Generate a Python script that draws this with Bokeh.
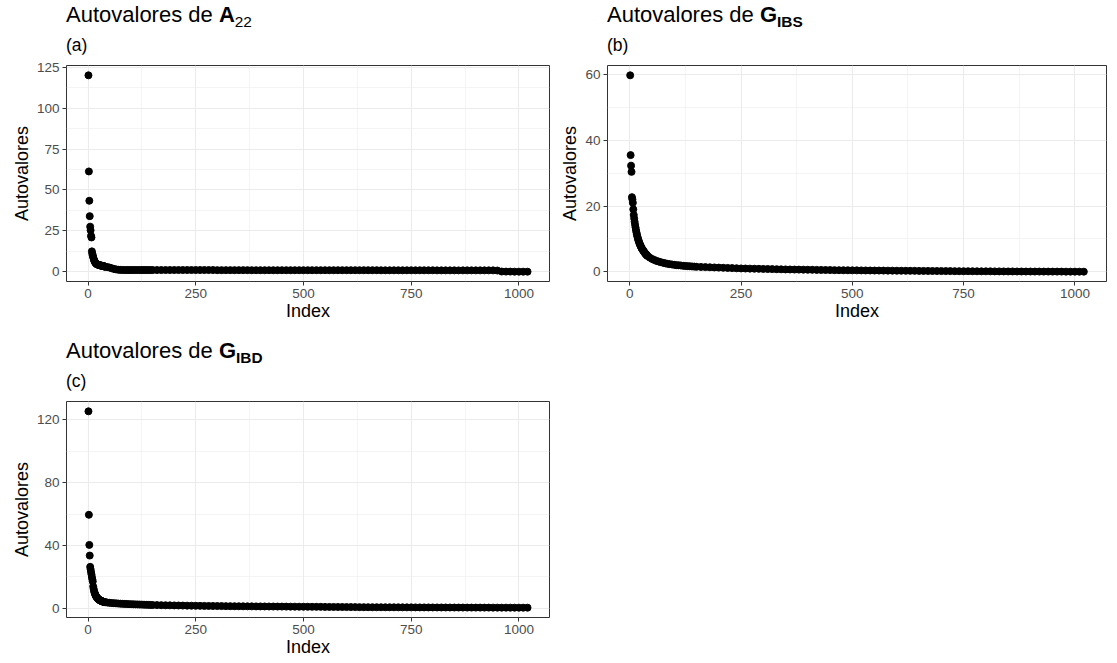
from bokeh.plotting import figure
from bokeh.models import Range1d, FixedTicker, Div
from bokeh.layouts import column, row
from bokeh.embed import file_html
from bokeh.resources import INLINE

FONT = "Liberation Sans"

# ---------------- data (eigenvalue index and value) ----------------
idx_head = list(range(1, 41))
idx_mid = list(range(45, 151, 5))
idx_tail = list(range(160, 1021, 10))

a22_head = [120.0, 61.3, 43.4, 34.0, 27.6, 25.4, 22.0, 21.0, 12.5, 11.0,
            10.0, 9.0, 8.0, 7.2, 6.5, 6.0, 5.6, 5.3, 5.0, 4.8,
            4.6, 4.5, 4.4, 4.3, 4.2, 4.1, 4.0, 4.0, 3.9, 3.8,
            3.8, 3.7, 3.7, 3.6, 3.5, 3.5, 3.4, 3.3, 3.2, 3.1]
a22_mid = [2.9, 2.6, 2.2, 1.8, 1.5, 1.3, 1.2, 1.15, 1.1, 1.1, 1.1,
           1.1, 1.1, 1.1, 1.1, 1.1, 1.1, 1.1, 1.1, 1.1, 1.1, 1.1]
a22_tail = [1.1, 1.1, 1.1, 1.1, 1.1, 1.1, 1.1, 1.1, 1.1, 1.1,
            1.1, 1.1, 1.1, 1.1, 1.05, 1.05, 1.05, 1.05, 1.05, 1.05,
            1.05, 1.05, 1.0, 1.0, 1.0, 1.0, 1.0, 1.0, 1.0, 1.0,
            1.0, 1.0, 1.0, 1.0, 1.0, 1.0, 1.0, 1.0, 1.0, 1.0,
            1.0, 1.0, 1.0, 1.0, 1.0, 1.0, 1.0, 1.0, 1.0, 1.0,
            1.0, 1.0, 0.95, 0.95, 0.95, 0.95, 0.95, 0.95, 0.95, 0.95,
            0.95, 0.95, 0.95, 0.95, 0.95, 0.9, 0.9, 0.9, 0.9, 0.9,
            0.9, 0.9, 0.9, 0.9, 0.9, 0.9, 0.9, 0.9, 0.9, 0.8,
            0.2, 0.15, 0.15, 0.1, 0.1, 0.1, 0.1]

gibs_head = [59.8, 35.5, 32.3, 30.4, 22.7, 22.0, 21.0, 19.0, 17.3, 16.2,
             15.2, 14.3, 13.5, 12.7, 12.0, 11.4, 10.8, 10.3, 9.8, 9.4,
             9.0, 8.6, 8.3, 8.0, 7.7, 7.4, 7.1, 6.9, 6.7, 6.5,
             6.3, 6.1, 5.9, 5.7, 5.5, 5.4, 5.2, 5.1, 4.9, 4.8]
gibs_mid = [4.3, 3.9, 3.6, 3.3, 3.1, 2.9, 2.7, 2.55, 2.4, 2.3, 2.2,
            2.1, 2.0, 1.95, 1.9, 1.8, 1.75, 1.7, 1.65, 1.6, 1.55, 1.5]
gibs_tail = [1.45, 1.4, 1.35, 1.3, 1.25, 1.2, 1.15, 1.1, 1.05, 1.0,
             0.97, 0.94, 0.91, 0.88, 0.85, 0.82, 0.79, 0.76, 0.73, 0.7,
             0.68, 0.66, 0.64, 0.62, 0.6, 0.58, 0.56, 0.54, 0.52, 0.5,
             0.48, 0.46, 0.45, 0.44, 0.42, 0.41, 0.4, 0.38, 0.37, 0.36,
             0.35, 0.34, 0.33, 0.32, 0.3, 0.29, 0.28, 0.27, 0.26, 0.25,
             0.24, 0.23, 0.22, 0.21, 0.2, 0.19, 0.18, 0.17, 0.16, 0.15,
             0.15, 0.14, 0.13, 0.12, 0.12, 0.11, 0.1, 0.1, 0.09, 0.08,
             0.08, 0.07, 0.07, 0.06, 0.06, 0.05, 0.05, 0.04, 0.04, 0.03,
             0.03, 0.03, 0.02, 0.02, 0.02, 0.01, 0.01]

gibd_head = [125.5, 59.5, 40.3, 33.5, 26.3, 24.8, 23.0, 21.5, 19.8, 18.3,
             17.0, 13.8, 12.3, 11.0, 10.0, 9.2, 8.5, 7.9, 7.4, 7.0,
             6.6, 6.3, 6.0, 5.7, 5.5, 5.3, 5.1, 4.9, 4.8, 4.6,
             4.5, 4.4, 4.3, 4.2, 4.1, 4.0, 3.9, 3.85, 3.8, 3.7]
gibd_mid = [3.5, 3.35, 3.2, 3.1, 3.0, 2.9, 2.8, 2.7, 2.65, 2.6, 2.5,
            2.45, 2.4, 2.35, 2.3, 2.25, 2.2, 2.15, 2.1, 2.05, 2.0, 1.95]
gibd_tail = [1.9, 1.85, 1.8, 1.75, 1.7, 1.65, 1.6, 1.55, 1.5, 1.45,
             1.42, 1.39, 1.36, 1.33, 1.3, 1.27, 1.24, 1.21, 1.18, 1.15,
             1.13, 1.11, 1.09, 1.07, 1.05, 1.03, 1.01, 0.99, 0.97, 0.95,
             0.93, 0.91, 0.89, 0.87, 0.85, 0.83, 0.81, 0.79, 0.77, 0.75,
             0.73, 0.71, 0.69, 0.67, 0.65, 0.63, 0.61, 0.59, 0.57, 0.55,
             0.54, 0.53, 0.52, 0.51, 0.5, 0.49, 0.48, 0.47, 0.46, 0.45,
             0.44, 0.43, 0.42, 0.41, 0.4, 0.39, 0.38, 0.37, 0.36, 0.35,
             0.34, 0.33, 0.32, 0.31, 0.3, 0.3, 0.29, 0.29, 0.28, 0.28,
             0.27, 0.27, 0.26, 0.26, 0.25, 0.25, 0.25]

x_ticks = [0, 250, 500, 750, 1000]
x_minor = [125, 375, 625, 875]
a_ticks, a_minor = [0, 25, 50, 75, 100, 125], [12.5, 37.5, 62.5, 87.5, 112.5]
b_ticks, b_minor = [0, 20, 40, 60], [10, 30, 50]
c_ticks, c_minor = [0, 40, 80, 120], [20, 60, 100]


def make_fig(y, yt, ym, width, height, bl, br, bt, bb, std):
    x = idx_head + idx_mid + idx_tail
    p = figure(width=width, height=height, output_backend="svg",
               toolbar_location=None, min_border_left=bl, min_border_right=br,
               min_border_top=bt, min_border_bottom=bb,
               background_fill_color="white", border_fill_color="white")
    dx = max(x) - min(x)
    dy = max(y) - min(y)
    p.x_range = Range1d(min(x) - 0.05 * dx, max(x) + 0.05 * dx)
    p.y_range = Range1d(min(y) - 0.05 * dy, max(y) + 0.05 * dy)
    p.xaxis.ticker = FixedTicker(ticks=x_ticks, minor_ticks=x_minor)
    p.yaxis.ticker = FixedTicker(ticks=yt, minor_ticks=ym)
    for g in (p.xgrid, p.ygrid):
        g.grid_line_color = "#EBEBEB"
        g.grid_line_width = 1.1
        g.minor_grid_line_color = "#EBEBEB"
        g.minor_grid_line_width = 0.55
    for ax in (p.xaxis, p.yaxis):
        ax.axis_line_color = None
        ax.major_tick_line_color = "#333333"
        ax.major_tick_line_width = 1
        ax.major_tick_out = 4
        ax.major_tick_in = 0
        ax.minor_tick_line_color = None
        ax.major_label_text_font = FONT
        ax.major_label_text_font_size = "13.5px"
        ax.major_label_text_color = "#4D4D4D"
        ax.major_label_standoff = 3
        ax.axis_label_text_font = FONT
        ax.axis_label_text_font_size = "18px"
        ax.axis_label_text_font_style = "normal"
        ax.axis_label_text_color = "black"
    p.xaxis.axis_label = "Index"
    p.yaxis.axis_label = "Autovalores"
    p.xaxis.axis_label_standoff = 0
    p.yaxis.axis_label_standoff = std
    p.outline_line_color = "#333333"
    p.outline_line_width = 1
    p.outline_line_alpha = 1
    p.scatter(x, y, size=7, color="black", line_color="black")
    return p


def title_div(html, width, left):
    return Div(text=html, width=width, height=22, margin=(0, 0, 0, left),
               styles={"font-family": FONT, "font-size": "22px",
                       "line-height": "14px", "color": "black",
                       "white-space": "nowrap"})


def sub_div(txt, width, left):
    return Div(text=txt, width=width, height=24, margin=(0, 0, 0, left),
               styles={"font-family": FONT, "font-size": "17.5px",
                       "line-height": "30.5px", "color": "black",
                       "white-space": "nowrap"})


SUB = '<span style="font-size:0.7em; position:relative; top:0.3em">%s</span>'

pa = make_fig(a22_head + a22_mid + a22_tail, a_ticks, a_minor, 547, 290, 58, 6, 11, 63, 2)
pb = make_fig(gibs_head + gibs_mid + gibs_tail, b_ticks, b_minor, 554, 290, 52, 3, 11, 63, 2)
pc = make_fig(gibd_head + gibd_mid + gibd_tail, c_ticks, c_minor, 547, 270, 58, 6, 11, 43, 2)

col_a = column(title_div('Autovalores de <b>A</b>' + SUB % '22', 489, 58),
               sub_div('(a)', 489, 58), pa)
col_b = column(title_div('Autovalores de <b>G' + SUB % 'IBS' + '</b>', 502, 52),
               sub_div('(b)', 502, 52), pb)
col_c = column(title_div('Autovalores de <b>G' + SUB % 'IBD' + '</b>', 489, 58),
               sub_div('(c)', 489, 58), pc)

layout = column(row(col_a, col_b), row(col_c), margin=(8, 0, 0, 8))

open("out.html", "w").write(file_html(layout, INLINE))
